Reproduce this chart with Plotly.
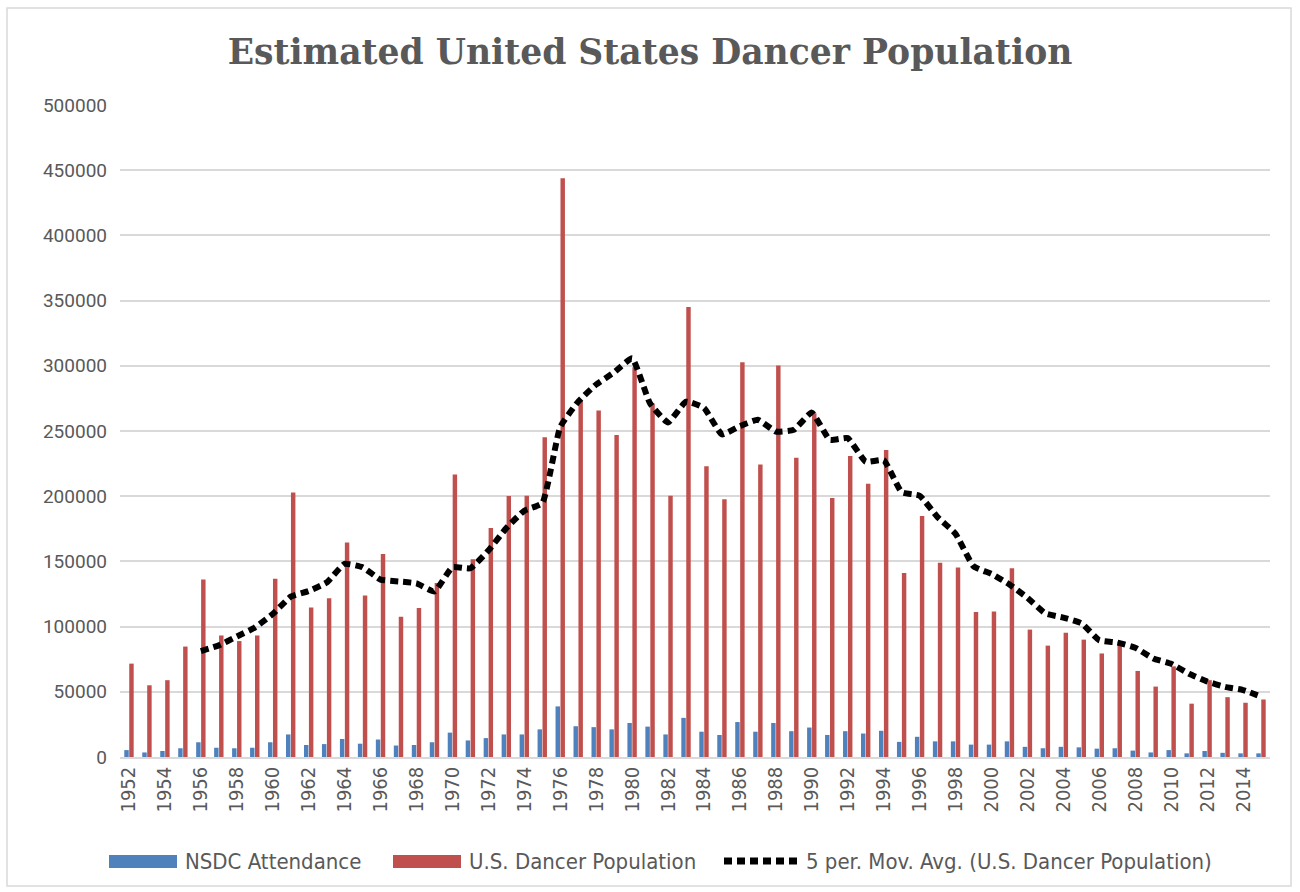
import plotly.graph_objects as go
import pandas as pd

years = list(range(1952, 2016))

nsdc_attendance = [
    5300, 3500, 4600, 6700, 11300, 7100, 6700, 7100, 11300, 17300,
    9200, 9900, 13800, 10200, 13400, 8800, 9200, 11300, 18700, 12700,
    14500, 17300, 17300, 21200, 38800, 23600, 22900, 21200, 26100, 23300,
    17300, 30000, 19400, 16900, 26800, 19400, 26100, 19800, 22600, 16900,
    19800, 18000, 20100, 11600, 15500, 12000, 12000, 9500, 9500, 12000,
    7800, 6700, 7800, 7400, 6400, 6700, 4900, 3500, 5300, 2800,
    4600, 3200, 2800, 2800,
]

us_dancer_population = [
    71600, 55000, 58900, 84700, 136200, 93200, 88900, 93200, 136600, 202900,
    114700, 121700, 164400, 123900, 155600, 107600, 114300, 133400, 216700, 151700,
    175700, 200100, 200400, 245200, 443900, 273100, 265700, 247000, 298900, 271000,
    200400, 345100, 223000, 197600, 302800, 224400, 300300, 229400, 263600, 198700,
    230800, 209600, 235400, 141100, 184900, 148900, 145400, 111200, 111500, 144700,
    97700, 85400, 95300, 90000, 79400, 88600, 66000, 54000, 69500, 40900,
    58900, 45900, 41600, 44100,
]

tick_years = list(range(1952, 2016, 2))

series_names = ["NSDC Attendance", "U.S. Dancer Population",
                "5 per. Mov. Avg. (U.S. Dancer Population)"]

# 5-period trailing moving average (trendline of the dancer population series)
mov_avg = pd.Series(us_dancer_population, index=years).rolling(5).mean()
ma = mov_avg.dropna()

GRAY = "#595959"
BLUE = "#4f81bd"
RED = "#c0504d"
GRID = "#d9d9d9"
cond_font = "Liberation Sans Narrow, DejaVu Sans Condensed, Roboto, sans-serif"
DASH = "8px,5px"

fig = go.Figure()
fig.add_trace(go.Bar(
    x=years, y=nsdc_attendance, name=series_names[0],
    marker=dict(color=BLUE, line=dict(width=0)),
))
fig.add_trace(go.Bar(
    x=years, y=us_dancer_population, name=series_names[1],
    marker=dict(color=RED, line=dict(width=0)),
))
fig.add_trace(go.Scatter(
    x=list(ma.index), y=list(ma.values), mode="lines", name=series_names[2],
    line=dict(color="black", width=6, dash=DASH, shape="spline", smoothing=0.4),
))

# plot area in pixels: x 120..1270, y 105..757
def px_x(p):
    return (p - 120) / 1150.0

def px_y(p):
    return (757 - p) / 652.0

leg_y = px_y(861)
shapes = [
    dict(type="rect", xref="paper", yref="paper",
         x0=px_x(7), x1=px_x(1291), y0=px_y(886), y1=px_y(8),
         line=dict(color=GRID, width=1.5), fillcolor="rgba(0,0,0,0)", layer="below"),
    dict(type="rect", xref="paper", yref="paper",
         x0=px_x(109), x1=px_x(177), y0=px_y(868), y1=px_y(855),
         line=dict(width=0), fillcolor=BLUE),
    dict(type="rect", xref="paper", yref="paper",
         x0=px_x(393), x1=px_x(461), y0=px_y(868), y1=px_y(855),
         line=dict(width=0), fillcolor=RED),
    dict(type="line", xref="paper", yref="paper",
         x0=px_x(724), x1=px_x(801), y0=leg_y, y1=leg_y,
         line=dict(color="black", width=7, dash=DASH)),
]
annotations = [
    dict(text=series_names[i], xref="paper", yref="paper", x=px_x(xp), y=leg_y,
         xanchor="left", yanchor="middle", showarrow=False,
         font=dict(family=cond_font, size=22, color=GRAY))
    for i, xp in enumerate([183, 467, 804])
]

fig.update_layout(
    width=1300, height=892,
    paper_bgcolor="white", plot_bgcolor="white",
    margin=dict(l=120, r=30, t=105, b=135, autoexpand=False),
    barmode="group", bargap=0.45, bargroupgap=0.1,
    title=dict(
        text="<b>Estimated United States Dancer Population</b>",
        x=0.5, xanchor="center", xref="container", y=0.942, yanchor="middle",
        font=dict(family="DejaVu Serif, Liberation Serif, serif", size=34.6, color=GRAY),
    ),
    showlegend=False,
    shapes=shapes,
    annotations=annotations,
)

fig.update_xaxes(
    range=[1951.5, 2015.5],
    tickmode="array", tickvals=tick_years, ticktext=[str(y) for y in tick_years],
    tickangle=-90,
    tickfont=dict(family=cond_font, size=20, color=GRAY),
    showgrid=False, showline=True, linecolor=GRID, linewidth=1.5,
    ticks="", zeroline=False,
)
fig.update_yaxes(
    range=[0, 500000], dtick=50000, tickformat="d",
    tickfont=dict(family="Roboto, sans-serif", size=19, color=GRAY),
    showgrid=True, gridcolor=GRID, gridwidth=1.5,
    zeroline=False, showline=False, ticks="", ticklabelstandoff=12,
)

fig.write_html(
    "out.html",
    config={"displayModeBar": False},
    post_script="document.body.style.margin='0px';document.body.style.overflow='hidden';",
)
